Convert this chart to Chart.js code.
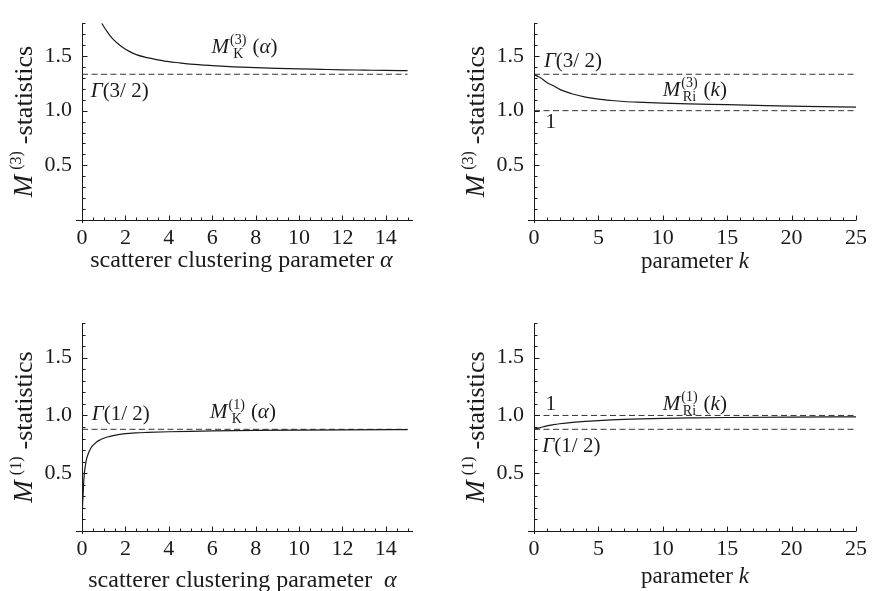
<!DOCTYPE html>
<html>
<head>
<meta charset="utf-8">
<script src="https://cdn.jsdelivr.net/npm/chart.js@4.4.1/dist/chart.umd.min.js"></script>
<style>
  body { margin: 0; background: #fff; }
  canvas { position: absolute; }
</style>
</head>
<body>
<canvas id="c1" width="436" height="295" style="left:0;top:0"></canvas>
<canvas id="c2" width="436" height="295" style="left:436px;top:0"></canvas>
<canvas id="c3" width="436" height="296" style="left:0;top:295px"></canvas>
<canvas id="c4" width="436" height="296" style="left:436px;top:295px"></canvas>
<script>
// K-distribution, M(3) statistic vs alpha
const alphaK3 = [0.91, 1.0, 1.15, 1.3, 1.45, 1.7, 1.9, 2.2, 2.5, 3, 3.5, 4, 4.5, 5, 6, 7, 8, 9, 10, 11, 12, 13, 14, 15];
const mK3 = [1.80, 1.77, 1.725, 1.685, 1.65, 1.605, 1.575, 1.54, 1.513, 1.485, 1.465, 1.448, 1.437, 1.426, 1.412, 1.401, 1.393, 1.387, 1.382, 1.378, 1.374, 1.371, 1.368, 1.366];

// Rician, M(3) statistic vs k
const kRi3 = [0, 0.25, 0.5, 1, 1.5, 2, 2.5, 3, 4, 5, 6, 7, 8, 10, 12, 15, 18, 21, 25];
const mRi3 = [1.333, 1.316, 1.30, 1.258, 1.228, 1.195, 1.172, 1.152, 1.124, 1.105, 1.093, 1.084, 1.078, 1.069, 1.062, 1.055, 1.047, 1.04, 1.032];

// K-distribution, M(1) statistic vs alpha
const alphaK1 = [0, 0.01, 0.03, 0.05, 0.09, 0.15, 0.22, 0.3, 0.43, 0.55, 0.7, 0.85, 1.0, 1.25, 1.5, 2, 2.5, 3, 4, 5, 6, 8, 10, 12, 15];
const mK1 = [0, 0.12, 0.24, 0.31, 0.46, 0.56, 0.63, 0.675, 0.725, 0.75, 0.775, 0.79, 0.803, 0.817, 0.828, 0.842, 0.849, 0.853, 0.859, 0.863, 0.866, 0.87, 0.873, 0.875, 0.877];

// Rician, M(1) statistic vs k
const kRi1 = [0, 0.5, 1, 1.5, 2, 3, 4, 5, 6, 7.5, 10, 12.5, 15, 20, 25];
const mRi1 = [0.88, 0.895, 0.91, 0.92, 0.928, 0.94, 0.949, 0.956, 0.962, 0.968, 0.975, 0.979, 0.982, 0.986, 0.988];

// dashed reference levels
const gamma32 = 1.333;
const gamma12 = 0.88;
const unity = 1.0;

const yTicks = [0.5, 1.0, 1.5];
const alphaTicks = [0, 2, 4, 6, 8, 10, 12, 14];
const kTicks = [0, 5, 10, 15, 20, 25];

const SERIF = '"Liberation Serif", "DejaVu Serif", serif';
const INK = '#1a1a1a';

const pts = (xs, ys) => xs.map((x, i) => ({ x, y: ys[i] }));

// draws a row of text runs (plain, italic, stacked sup/sub), returns end x
function drawRuns(ctx, x, y, runs, dry) {
  for (const r of runs) {
    if (r.sup !== undefined) {
      ctx.font = (r.size || 14) + 'px ' + SERIF;
      const w1 = ctx.measureText(r.sup).width;
      const w2 = r.sub ? ctx.measureText(r.sub).width : 0;
      if (!dry) {
        ctx.fillText(r.sup, x, y - (r.up || 9));
        if (r.sub) ctx.fillText(r.sub, x + (w1 - w2) / 2, y + 5);
      }
      x += Math.max(w1, w2) + (r.gap || 0);
    } else {
      ctx.font = (r.i ? 'italic ' : '') + (r.size || 21) + 'px ' + SERIF;
      if (!dry) ctx.fillText(r.t, x, y);
      x += ctx.measureText(r.t).width + (r.gap || 0);
    }
  }
  return x;
}

const gammaLabel = frac => [{ t: 'Γ', i: 1 }, { t: '(' + frac + ')' }];
const mLabel = (pow, sub, arg) => [{ t: 'M', i: 1, gap: 1 }, { sup: '(' + pow + ')', sub: sub, gap: 6 }, { t: '(' }, { t: arg, i: 1 }, { t: ')' }];

function deco(o) {
  return {
    id: 'deco',
    afterDraw(chart) {
      const { ctx, chartArea: a, scales: { x, y } } = chart;
      ctx.save();
      ctx.strokeStyle = INK;
      ctx.fillStyle = INK;
      ctx.lineWidth = 1;

      // axes with inward ticks
      const bx = Math.round(a.left) + 0.5, by = Math.round(a.bottom) + 0.5;
      ctx.beginPath();
      ctx.moveTo(a.left - 6, by); ctx.lineTo(a.right, by);
      ctx.moveTo(bx, a.top); ctx.lineTo(bx, a.bottom + 3);
      for (let i = 1; i * o.xMinor <= x.max + 1e-6; i++) {
        const v = i * o.xMinor, px = Math.round(x.getPixelForValue(v)) + 0.5;
        const len = o.xTicks.some(t => Math.abs(t - v) < 1e-6) ? 5 : 3;
        ctx.moveTo(px, by); ctx.lineTo(px, by - len);
      }
      for (let i = 1; i * 0.1 <= 1.8 + 1e-6; i++) {
        const v = i * 0.1, py = Math.round(y.getPixelForValue(v)) + 0.5;
        const len = yTicks.some(t => Math.abs(t - v) < 1e-6) ? 5 : 3;
        ctx.moveTo(bx, py); ctx.lineTo(bx + len, py);
      }
      ctx.stroke();

      // curve labels
      ctx.textBaseline = 'alphabetic';
      o.labels.forEach(l => drawRuns(ctx, x.getPixelForValue(l.x), y.getPixelForValue(l.y), l.runs));

      // x title
      const xt = o.xTitle;
      const xw = drawRuns(ctx, 0, 0, xt, true);
      drawRuns(ctx, (a.left + a.right) / 2 + o.titleDx - xw / 2, a.bottom + o.titleDy, xt);

      // y title, rotated
      ctx.translate(a.left - 50, (a.top + a.bottom) / 2);
      ctx.rotate(-Math.PI / 2);
      const yt = [{ t: 'M', i: 1, size: 27, gap: 5 }, { sup: '(' + o.yPow + ')', size: 16, up: 11, gap: 7 }, { t: '-statistics', size: 26 }];
      const yw = drawRuns(ctx, 0, 0, yt, true);
      drawRuns(ctx, -yw / 2, 0, yt);
      ctx.restore();
    }
  };
}

function panel(id, o) {
  const datasets = [{
    data: pts(o.xs, o.ys),
    borderColor: INK, borderWidth: 1.2, pointRadius: 0,
    cubicInterpolationMode: 'monotone'
  }];
  o.refs.forEach(v => datasets.push({
    data: [{ x: 0, y: v }, { x: o.xEnd, y: v }],
    borderColor: '#333', borderWidth: 1, borderDash: [6, 3.5], pointRadius: 0
  }));

  new Chart(document.getElementById(id), {
    type: 'line',
    data: { datasets },
    options: {
      responsive: false,
      animation: false,
      events: [],
      layout: { padding: { left: 0, top: o.top, right: o.right, bottom: 0 } },
      plugins: { legend: { display: false }, tooltip: { enabled: false } },
      scales: {
        x: {
          type: 'linear', min: 0, max: o.xMax,
          grid: { display: false, drawTicks: false, tickLength: 0 }, border: { display: false },
          afterBuildTicks: s => { s.ticks = o.xTicks.map(v => ({ value: v })); },
          afterFit: s => { s.height = o.xH; },
          ticks: { font: { family: SERIF, size: 22 }, color: INK, padding: 5, maxRotation: 0, autoSkip: false }
        },
        y: {
          type: 'linear', min: 0, max: 1.8,
          grid: { display: false, drawTicks: false, tickLength: 0 }, border: { display: false },
          afterBuildTicks: s => { s.ticks = yTicks.map(v => ({ value: v })); },
          afterFit: s => { s.width = o.left; },
          ticks: { font: { family: SERIF, size: 22 }, color: INK, padding: 10, callback: v => Number(v).toFixed(1) }
        }
      }
    },
    plugins: [deco(o)]
  });
}

const alphaTitle = [{ t: 'scatterer clustering parameter ', size: 24 }, { t: 'α', i: 1, size: 24 }];
const alphaTitle2 = [{ t: 'scatterer clustering parameter  ', size: 24 }, { t: 'α', i: 1, size: 24 }];
const kTitle = [{ t: 'parameter ', size: 23 }, { t: 'k', i: 1, size: 23 }];

panel('c1', {
  xs: alphaK3, ys: mK3, refs: [gamma32], xEnd: 15, xMax: 15.25, xTicks: alphaTicks, xMinor: 0.5,
  left: 82, top: 12, right: 23, xH: 75, titleDx: -6, titleDy: 47, yPow: 3, xTitle: alphaTitle,
  labels: [
    { x: 5.97, y: 1.53, runs: mLabel(3, 'K', 'α') },
    { x: 0.4, y: 1.125, runs: gammaLabel('3/ 2') }
  ]
});

panel('c2', {
  xs: kRi3, ys: mRi3, refs: [gamma32, unity], xEnd: 25, xMax: 25, xTicks: kTicks, xMinor: 1,
  left: 98, top: 12, right: 13, xH: 75, titleDx: 0, titleDy: 48, yPow: 3, xTitle: kTitle,
  labels: [
    { x: 0.77, y: 1.40, runs: gammaLabel('3/ 2') },
    { x: 10.0, y: 1.133, runs: mLabel(3, 'Ri', 'k') },
    { x: 0.9, y: 0.84, runs: [{ t: '1' }] }
  ]
});

panel('c3', {
  xs: alphaK1, ys: mK1, refs: [gamma12], xEnd: 15, xMax: 15.25, xTicks: alphaTicks, xMinor: 0.5,
  left: 82, top: 28, right: 23, xH: 60, titleDx: -5, titleDy: 56, yPow: 1, xTitle: alphaTitle2,
  labels: [
    { x: 0.45, y: 0.96, runs: gammaLabel('1/ 2') },
    { x: 5.9, y: 0.977, runs: mLabel(1, 'K', 'α') }
  ]
});

panel('c4', {
  xs: kRi1, ys: mRi1, refs: [unity, gamma12], xEnd: 25, xMax: 25, xTicks: kTicks, xMinor: 1,
  left: 98, top: 28, right: 13, xH: 60, titleDx: 0, titleDy: 52, yPow: 1, xTitle: kTitle,
  labels: [
    { x: 0.9, y: 1.046, runs: [{ t: '1' }] },
    { x: 10.0, y: 1.046, runs: mLabel(1, 'Ri', 'k') },
    { x: 0.65, y: 0.685, runs: gammaLabel('1/ 2') }
  ]
});
</script>
</body>
</html>
